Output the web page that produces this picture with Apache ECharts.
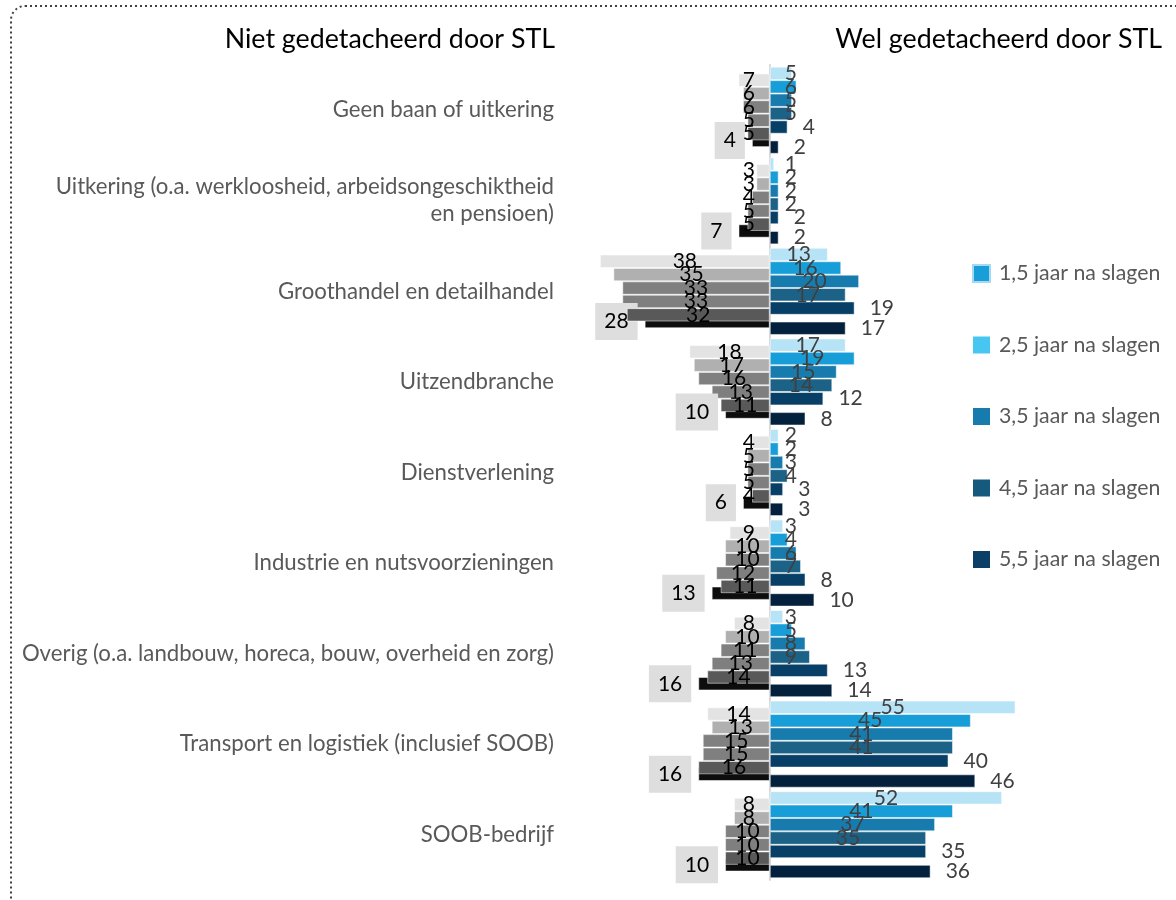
<!DOCTYPE html>
<html>
<head>
<meta charset="utf-8">
<script src="https://cdn.jsdelivr.net/npm/echarts@6/dist/echarts.min.js"></script>
<style>
  html, body { margin: 0; padding: 0; background: #fff; }
  #main { width: 1176px; height: 900px; }
</style>
</head>
<body>
<div id="main"></div>
<script>
// categorieën (van boven naar beneden)
const categories = [
  'Geen baan of uitkering',
  'Uitkering (o.a. werkloosheid, arbeidsongeschiktheid\nen pensioen)',
  'Groothandel en detailhandel',
  'Uitzendbranche',
  'Dienstverlening',
  'Industrie en nutsvoorzieningen',
  'Overig (o.a. landbouw, horeca, bouw, overheid en zorg)',
  'Transport en logistiek (inclusief SOOB)',
  'SOOB-bedrijf'
]

// niet gedetacheerd door STL (links)
const niet05 = [7, 3, 38, 18, 4, 9, 8, 14, 8]
const niet15 = [6, 3, 35, 17, 5, 10, 10, 13, 8]
const niet25 = [6, 4, 33, 16, 5, 10, 11, 15, 10]
const niet35 = [5, 5, 33, 13, 5, 12, 13, 15, 10]
const niet45 = [5, 5, 32, 11, 4, 11, 14, 16, 10]
const niet55 = [4, 7, 28, 10, 6, 13, 16, 16, 10]

// wel gedetacheerd door STL (rechts)
const wel05 = [5, 1, 13, 17, 2, 3, 3, 55, 52]
const wel15 = [6, 2, 16, 19, 2, 4, 5, 45, 41]
const wel25 = [5, 2, 20, 15, 3, 6, 8, 41, 37]
const wel35 = [5, 2, 17, 14, 4, 7, 9, 41, 35]
const wel45 = [4, 2, 19, 12, 3, 8, 13, 40, 35]
const wel55 = [2, 2, 17, 8, 3, 10, 14, 46, 36]

const legendNames = ['1,5 jaar na slagen', '2,5 jaar na slagen', '3,5 jaar na slagen', '4,5 jaar na slagen', '5,5 jaar na slagen']

const greys = ['#e3e3e3', '#b0b0b0', '#808080', '#7f7f7f', '#595959', '#0d0d0d']
const blues = ['#b7e3f6', '#179ed9', '#177bae', '#1b6286', '#073f66', '#03203c']
const legendColors = ['#1a9ed9', '#48c6f2', '#177bae', '#155a7d', '#0b3f66']

const FONT = 'Lato, "Noto Sans", sans-serif'
const BAR_W = 13.4

const $chart = document.getElementById('main')
const myChart = echarts.init($chart)

// label in het midden van de balk, maar minstens 21px van de as
const clampRight = p => {
  const r = p.rect
  const cx = r.x + r.width / 2
  return { x: Math.max(cx, r.x + 21), y: r.y + r.height / 2, align: 'center', verticalAlign: 'middle' }
}
const clampLeft = p => {
  const r = p.rect
  const cx = r.x + r.width / 2
  return { x: Math.min(cx, r.x + r.width - 21), y: r.y + r.height / 2, align: 'center', verticalAlign: 'middle' }
}

const absFmt = p => Math.abs(p.value)

function welSeries(name, values, i, outside) {
  const s = {
    name,
    type: 'bar',
    yAxisIndex: 0,
    barWidth: BAR_W,
    barGap: '-50%',
    data: values,
    itemStyle: { color: blues[i], borderColor: 'rgba(255,255,255,0.5)', borderWidth: 1 },
    label: {
      show: true,
      color: '#404040',
      fontFamily: FONT,
      fontSize: 21,
      textBorderWidth: 0
    }
  }
  if (outside) {
    s.label.position = 'right'
    s.label.distance = 15
  } else {
    s.label.position = 'inside'
    s.labelLayout = clampRight
  }
  return s
}

function nietSeries(name, values, i, box) {
  const s = {
    name,
    type: 'bar',
    yAxisIndex: 0,
    barWidth: BAR_W,
    barGap: '-50%',
    data: values.map(v => -v),
    itemStyle: { color: greys[i], borderColor: 'rgba(255,255,255,0.5)', borderWidth: 1 },
    label: {
      show: true,
      color: '#000',
      fontFamily: FONT,
      fontSize: 21,
      textBorderWidth: 0,
      formatter: absFmt
    }
  }
  if (box) {
    s.label.position = 'left'
    s.label.distance = 7
    s.label.backgroundColor = '#dedede'
    s.label.padding = [8, 9, 8, 9]
  } else {
    s.label.position = 'inside'
    s.labelLayout = clampLeft
  }
  return s
}

const series = [
  welSeries('0,5 jaar na slagen', wel05, 0),
  nietSeries('Niet 0,5', niet05, 0),
  welSeries(legendNames[0], wel15, 1),
  nietSeries('Niet 1,5', niet15, 1),
  welSeries(legendNames[1], wel25, 2),
  nietSeries('Niet 2,5', niet25, 2),
  welSeries(legendNames[2], wel35, 3),
  nietSeries('Niet 3,5', niet35, 3),
  welSeries(legendNames[3], wel45, 4, true),
  Object.assign(nietSeries('Niet 4,5', niet45, 4), { z: 3 }),
  nietSeries('Niet 5,5', niet55, 5, true),
  welSeries(legendNames[4], wel55, 5, true)
]

const option = {
  animation: false,
  backgroundColor: '#fff',
  textStyle: { fontFamily: FONT },
  title: [
    { text: 'Niet gedetacheerd door STL', right: 616, top: 21, textStyle: { fontFamily: FONT, fontSize: 26.8, fontWeight: 'normal', color: '#000' } },
    { text: 'Wel gedetacheerd door STL', right: 9, top: 21, textStyle: { fontFamily: FONT, fontSize: 26.8, fontWeight: 'normal', color: '#000' } }
  ],
  legend: {
    orient: 'vertical',
    left: 967,
    top: 258,
    itemWidth: 17,
    itemHeight: 17,
    itemGap: 50.5,
    selectedMode: false,
    textStyle: { fontFamily: FONT, fontSize: 21.3, color: '#595959', padding: [0, 0, 0, 4] },
    data: legendNames.map((n, i) => ({
      name: n,
      icon: 'rect',
      itemStyle: i === 0
        ? { color: legendColors[i], borderColor: '#a3daf2', borderWidth: 2 }
        : { color: legendColors[i], borderWidth: 0 }
    }))
  },
  grid: { left: 591, right: 156, top: 65, bottom: 20 },
  xAxis: {
    type: 'value',
    min: -40,
    max: 56,
    show: false,
    splitLine: { show: false }
  },
  yAxis: [
    {
      type: 'category',
      data: categories,
      inverse: true,
      axisLine: { show: true, onZero: true, lineStyle: { color: '#d9d9d9', width: 2 } },
      axisTick: { show: false },
      axisLabel: { show: false }
    },
    {
      type: 'category',
      data: categories,
      inverse: true,
      position: 'left',
      axisLine: { show: false, onZero: false },
      axisTick: { show: false },
      axisLabel: { margin: 37, fontFamily: FONT, fontSize: 22.2, color: '#595959', lineHeight: 27, align: 'right' }
    }
  ],
  graphic: [
    {
      type: 'rect',
      shape: { x: 11, y: 6, width: 1300, height: 1000, r: 14 },
      style: { fill: 'none', stroke: '#404040', lineWidth: 2, lineDash: [2, 3] },
      silent: true
    }
  ],
  series
}

myChart.setOption(option)
</script>
</body>
</html>
